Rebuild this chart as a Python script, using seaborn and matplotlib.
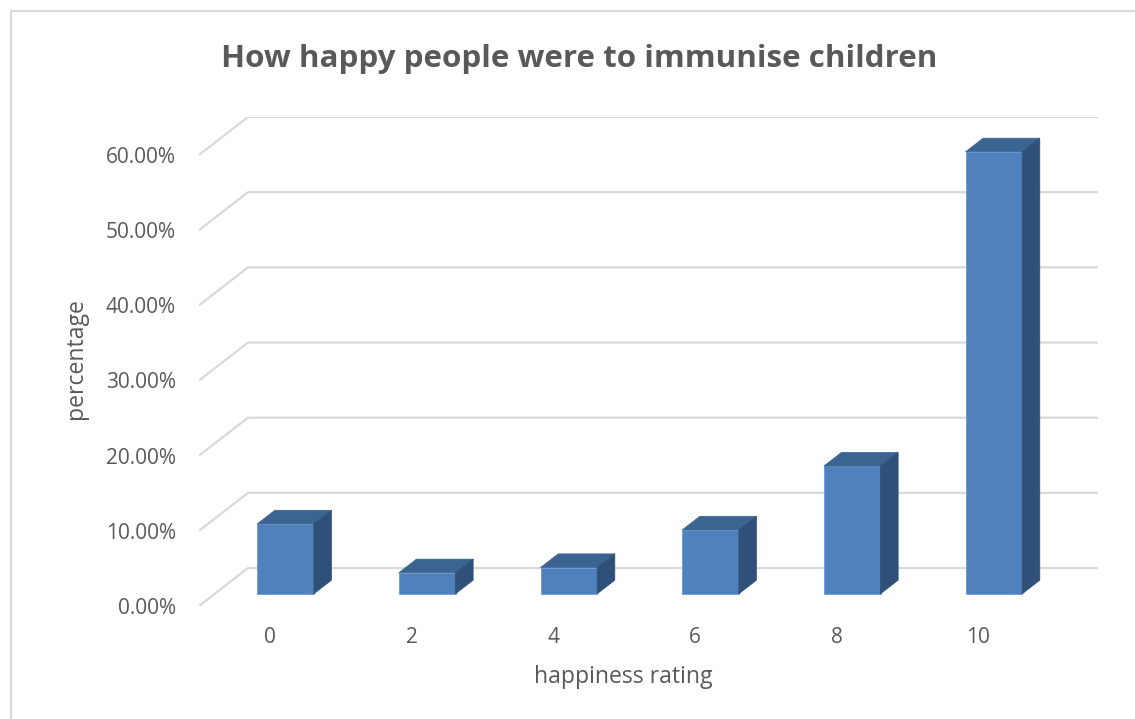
import matplotlib.pyplot as plt
import seaborn as sns
from matplotlib.lines import Line2D
from matplotlib.patches import Polygon

ratings = ["0", "2", "4", "6", "8", "10"]
percentages = [9.3, 2.8, 3.5, 8.5, 17.0, 58.8]
y_ticks = [0, 10, 20, 30, 40, 50, 60]
y_tick_labels = [f"{v:.2f}%" for v in y_ticks]

title = "How happy people were to immunise children"
x_label = "happiness rating"
y_label = "percentage"

# fake 3D look: offset of the back wall from the front plane, in data units
DEPTH_X = 0.346
DEPTH_Y = 5.05
BAR_FRONT = 0.32  # where the bar front face sits, as fraction of depth
BAR_DEPTH = 0.36  # how deep the bars are, as fraction of depth

FRONT = "#4F81BD"
TOP = "#3C6491"
SIDE = "#2F5078"
GRID = "#D9D9D9"
TEXT = "#595959"

sns.set_theme(style="white")
plt.rcParams["font.family"] = ["Open Sans", "DejaVu Sans"]

W, H = 1135, 719
fig = plt.figure(figsize=(W / 100, H / 100), dpi=100)
ax = fig.add_axes([199 / W, 113 / H, 899 / W, 489 / H])

# back wall gridlines with the slanted bit on the left side wall
for v in y_ticks:
    ax.plot(
        [-0.5, -0.5 + DEPTH_X, len(ratings) - 0.5 + DEPTH_X],
        [v, v + DEPTH_Y, v + DEPTH_Y],
        color=GRID, linewidth=1.6, zorder=0, solid_capstyle="butt",
    )

sns.barplot(
    x=ratings, y=percentages, order=ratings, color=FRONT,
    width=0.4, saturation=1, ax=ax, zorder=3,
    edgecolor="#6F9AD0", linewidth=0.6,
)

ox, oy = BAR_FRONT * DEPTH_X, BAR_FRONT * DEPTH_Y
bx, by = BAR_DEPTH * DEPTH_X, BAR_DEPTH * DEPTH_Y
for bar in list(ax.patches):
    bar.set_x(bar.get_x() + ox)
    bar.set_y(bar.get_y() + oy)
    x0, y0 = bar.get_x(), bar.get_y()
    x1, y1 = x0 + bar.get_width(), y0 + bar.get_height()
    top = Polygon([(x0, y1), (x1, y1), (x1 + bx, y1 + by), (x0 + bx, y1 + by)],
                  closed=True, facecolor=TOP, edgecolor=TOP, linewidth=0.5, zorder=3)
    side = Polygon([(x1, y0), (x1, y1), (x1 + bx, y1 + by), (x1 + bx, y0 + by)],
                   closed=True, facecolor=SIDE, edgecolor=SIDE, linewidth=0.5, zorder=3)
    ax.add_patch(top)
    ax.add_patch(side)

ax.set_xlim(-0.5, len(ratings) - 0.5 + DEPTH_X)
ax.set_ylim(0, max(y_ticks) + DEPTH_Y)
ax.set_yticks(y_ticks)
ax.set_yticklabels(y_tick_labels)
ax.tick_params(axis="y", length=0, pad=16.5, labelsize=15, labelcolor=TEXT)
ax.tick_params(axis="x", length=0, pad=15, labelsize=15, labelcolor=TEXT)
ax.set_xlabel("")
ax.set_ylabel("")
sns.despine(ax=ax, left=True, bottom=True)

fig.text(579 / W, 1 - 67 / H, title, ha="center", va="baseline",
         fontsize=22.6, fontweight="bold", color=TEXT)
fig.text(623 / W, 1 - 683 / H, x_label, ha="center", va="baseline",
         fontsize=16.6, color=TEXT)
fig.text(76 / W, 1 - 359 / H, y_label, ha="center", va="center",
         rotation=90, fontsize=16.6, color=TEXT)

# chart area border (runs off the right and bottom of the picture)
fig.add_artist(Line2D([11 / W, 1], [1 - 11 / H, 1 - 11 / H], color=GRID, linewidth=1.5))
fig.add_artist(Line2D([11 / W, 11 / W], [0, 1 - 11 / H], color=GRID, linewidth=1.5))

fig.savefig("out.png", dpi=100, facecolor="white")
